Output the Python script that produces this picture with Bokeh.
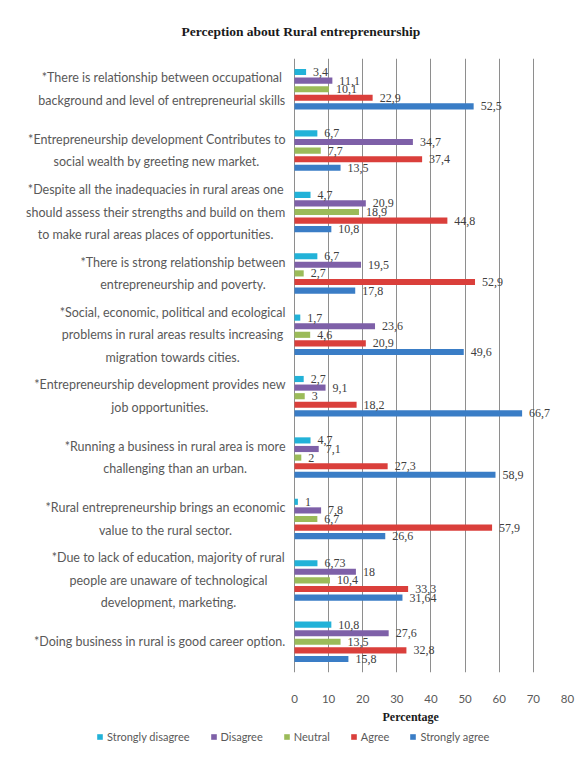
from bokeh.plotting import figure
from bokeh.layouts import column
from bokeh.models import (FactorRange, ColumnDataSource, LabelSet, Legend,
                          LegendItem, FixedTicker, Range1d, Title)
from bokeh.core.properties import value
from bokeh.transform import dodge
from bokeh.embed import file_html
from bokeh.resources import INLINE

categories = [
    "*There is relationship between occupational\nbackground and level of entrepreneurial skills",
    "*Entrepreneurship development Contributes to\nsocial wealth by greeting new market.",
    "*Despite all the inadequacies in rural areas one\nshould assess their strengths and build on them\nto make rural areas places of opportunities.",
    "*There is strong relationship between\nentrepreneurship and poverty.",
    "*Social, economic, political and ecological\nproblems in rural areas results increasing\nmigration towards cities.",
    "*Entrepreneurship development provides new\njob opportunities.",
    "*Running a business in rural area is more\nchallenging than an urban.",
    "*Rural entrepreneurship brings an economic\nvalue to the rural sector.",
    "*Due to lack of education, majority of rural\npeople are unaware of technological\ndevelopment, marketing.",
    "*Doing business in rural is good career option.",
]
strongly_disagree = [3.4, 6.7, 4.7, 6.7, 1.7, 2.7, 4.7, 1.0, 6.73, 10.8]
disagree = [11.1, 34.7, 20.9, 19.5, 23.6, 9.1, 7.1, 7.8, 18.0, 27.6]
neutral = [10.1, 7.7, 18.9, 2.7, 4.6, 3.0, 2.0, 6.7, 10.4, 13.5]
agree = [22.9, 37.4, 44.8, 52.9, 20.9, 18.2, 27.3, 57.9, 33.3, 32.8]
strongly_agree = [52.5, 13.5, 10.8, 17.8, 49.6, 66.7, 58.9, 26.6, 31.64, 15.8]
series_names = ["Strongly disagree", "Disagree", "Neutral", "Agree", "Strongly agree"]
x_ticks = [0, 10, 20, 30, 40, 50, 60, 70, 80]

series_values = [strongly_disagree, disagree, neutral, agree, strongly_agree]
colors = ["#22B2D8", "#7E60A8", "#9BBB59", "#DA3F3B", "#3A7DC6"]
offsets = [0.28, 0.14, 0.0, -0.14, -0.28]

# frame spans the label area too; value 0 sits at x=294 px
p = figure(width=585, height=729,
           y_range=FactorRange(factors=categories[::-1]),
           x_range=Range1d(-83.8, 80),
           y_axis_location=None,
           output_backend="svg", toolbar_location=None,
           min_border_left=8, min_border_right=18,
           min_border_top=58, min_border_bottom=57)

p.add_layout(Title(text="Perception about Rural entrepreneurship",
                   text_font="Liberation Serif", text_font_style="bold",
                   text_font_size="13.5px", text_color="#1a1a1a",
                   align="left", offset=173, standoff=39), "above")

p.outline_line_color = None
p.ygrid.grid_line_color = None
p.xgrid.grid_line_color = "#8e8e8e"
p.xgrid.grid_line_width = 1
p.xaxis.ticker = FixedTicker(ticks=x_ticks)
p.xaxis.axis_line_color = None
p.xaxis.major_tick_line_color = None
p.xaxis.minor_tick_line_color = None
p.xaxis.major_label_standoff = 16
p.xaxis.major_label_text_font = "Lato"
p.xaxis.major_label_text_font_size = "11.5px"
p.xaxis.major_label_text_color = "#595959"

p.add_layout(Title(text="Percentage", text_font="Liberation Serif",
                   text_font_style="bold", text_font_size="12px",
                   text_color="#1a1a1a", align="left", offset=374,
                   standoff=4), "below")

cat_src = ColumnDataSource(dict(cat=categories))
p.text(x=0, y="cat", text="cat", source=cat_src, x_offset=-9,
       anchor=value("center_right"), text_align="center",
       text_baseline="middle", text_line_height=1.5,
       text_font=value("Lato"), text_font_size="12.5px", text_color="#595959")

items = []
for name, vals, col, off in zip(series_names, series_values, colors, offsets):
    src = ColumnDataSource(dict(
        cat=categories, val=vals,
        lbl=[f"{v:g}".replace(".", ",") for v in vals]))
    p.hbar(y=dodge("cat", off, range=p.y_range), right="val", left=0,
           height=0.1, source=src, fill_color=col, line_color=None)
    p.add_layout(LabelSet(x="val", y=dodge("cat", off, range=p.y_range),
                          text="lbl", source=src, x_offset=7,
                          text_baseline="middle", text_font="Lato",
                          text_font_size="12px", text_color="#404040"))

# legend strip (zero-size proxy bars carry the series colours)
lp = figure(width=585, height=28, x_axis_location=None, y_axis_location=None,
            output_backend="svg", toolbar_location=None, min_border=0)
lp.outline_line_color = None
lp.xgrid.visible = False
lp.ygrid.visible = False
for name, col in zip(series_names, colors):
    r = lp.hbar(y=[0], right=[0], left=0, height=0.1,
                fill_color=col, line_color=None)
    items.append(LegendItem(label=name, renderers=[r]))

legend = Legend(items=items, orientation="horizontal", location=(88, 14),
                label_text_font="Lato", label_text_font_size="11px",
                label_text_color="#595959", glyph_width=7, glyph_height=7,
                label_height=14, label_standoff=4, spacing=20, padding=3,
                margin=0, border_line_color=None, background_fill_alpha=0)
lp.add_layout(legend, "center")

layout = column(p, lp, spacing=0)
open("out.html", "w").write(file_html(layout, INLINE))
